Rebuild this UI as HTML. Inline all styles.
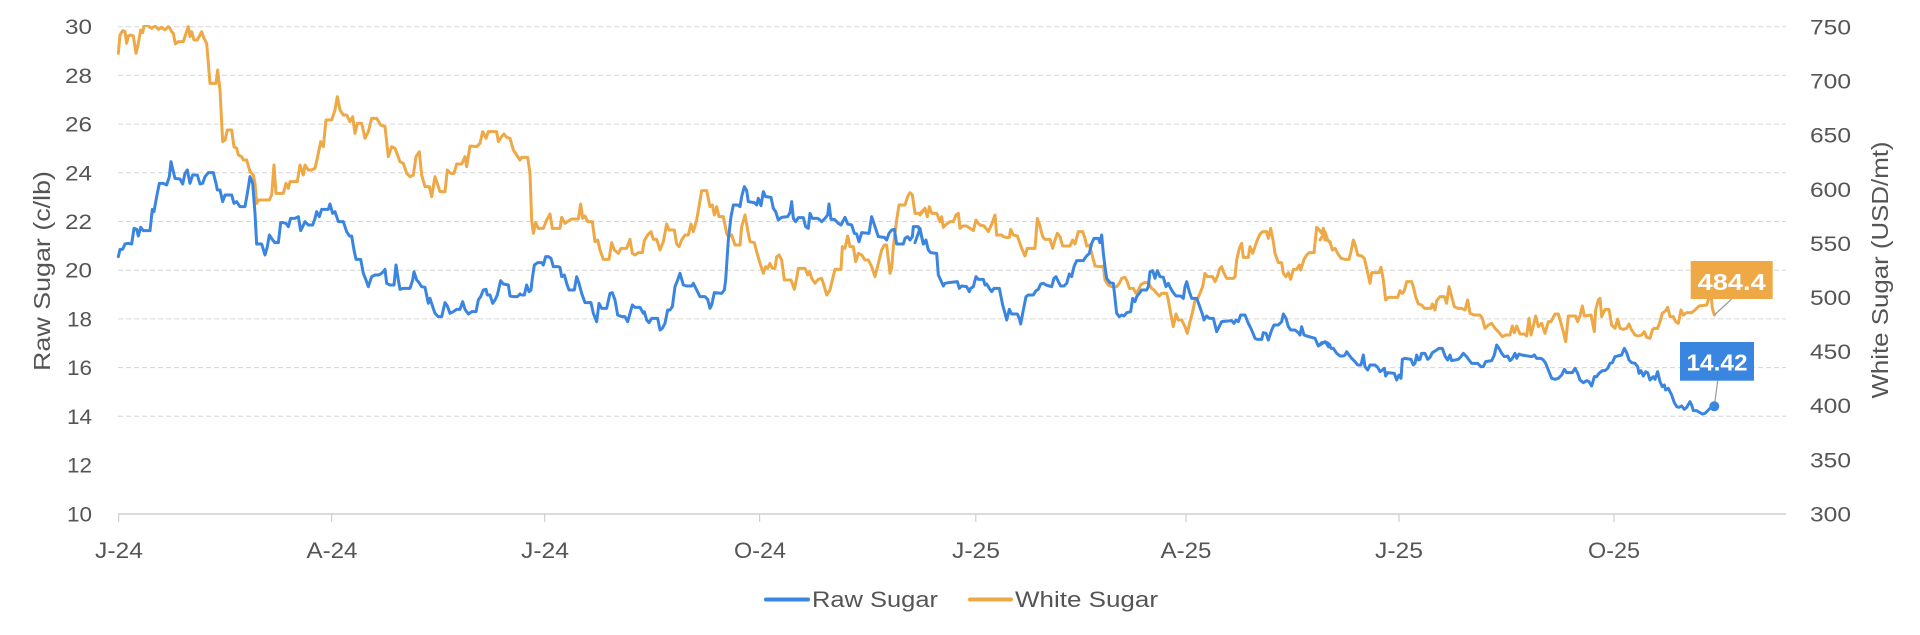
<!DOCTYPE html>
<html><head><meta charset="utf-8"><style>
html,body{margin:0;padding:0;background:#fff;}
svg{display:block;}
text{font-family:"Liberation Sans",sans-serif;}
</style></head><body>
<svg width="1920" height="635" viewBox="0 0 1920 635" xmlns="http://www.w3.org/2000/svg">
<defs><clipPath id="pc"><rect x="116" y="25" width="1672" height="492"/></clipPath></defs>
<rect width="1920" height="635" fill="#fff"/>
<g stroke="#d6d6d6" stroke-width="1" stroke-dasharray="5,3">
<line x1="118" y1="26.7" x2="1786" y2="26.7"/>
<line x1="118" y1="75.4" x2="1786" y2="75.4"/>
<line x1="118" y1="124.1" x2="1786" y2="124.1"/>
<line x1="118" y1="172.8" x2="1786" y2="172.8"/>
<line x1="118" y1="221.5" x2="1786" y2="221.5"/>
<line x1="118" y1="270.2" x2="1786" y2="270.2"/>
<line x1="118" y1="318.9" x2="1786" y2="318.9"/>
<line x1="118" y1="367.6" x2="1786" y2="367.6"/>
<line x1="118" y1="416.3" x2="1786" y2="416.3"/>
</g>
<line x1="118" y1="514" x2="1786" y2="514" stroke="#cfcfcf" stroke-width="1.5"/>
<g stroke="#cfcfcf" stroke-width="1.2">
<line x1="118.6" y1="514" x2="118.6" y2="522"/>
<line x1="331.6" y1="514" x2="331.6" y2="522"/>
<line x1="544.7" y1="514" x2="544.7" y2="522"/>
<line x1="759.6" y1="514" x2="759.6" y2="522"/>
<line x1="975.8" y1="514" x2="975.8" y2="522"/>
<line x1="1186" y1="514" x2="1186" y2="522"/>
<line x1="1399" y1="514" x2="1399" y2="522"/>
<line x1="1614" y1="514" x2="1614" y2="522"/>
</g>
<g fill="#555" font-size="21" text-anchor="end">
<text x="92" y="34" textLength="27" lengthAdjust="spacingAndGlyphs">30</text>
<text x="92" y="83" textLength="27" lengthAdjust="spacingAndGlyphs">28</text>
<text x="92" y="131.5" textLength="27" lengthAdjust="spacingAndGlyphs">26</text>
<text x="92" y="180.3" textLength="27" lengthAdjust="spacingAndGlyphs">24</text>
<text x="92" y="229" textLength="27" lengthAdjust="spacingAndGlyphs">22</text>
<text x="92" y="277.7" textLength="27" lengthAdjust="spacingAndGlyphs">20</text>
<text x="92" y="326.4" textLength="25" lengthAdjust="spacingAndGlyphs">18</text>
<text x="92" y="375.1" textLength="25" lengthAdjust="spacingAndGlyphs">16</text>
<text x="92" y="423.8" textLength="25" lengthAdjust="spacingAndGlyphs">14</text>
<text x="92" y="472.5" textLength="25" lengthAdjust="spacingAndGlyphs">12</text>
<text x="92" y="521.5" textLength="25" lengthAdjust="spacingAndGlyphs">10</text>
</g>
<g fill="#555" font-size="21" text-anchor="start">
<text x="1810" y="34.5" textLength="41" lengthAdjust="spacingAndGlyphs">750</text>
<text x="1810" y="88.6" textLength="41" lengthAdjust="spacingAndGlyphs">700</text>
<text x="1810" y="142.7" textLength="41" lengthAdjust="spacingAndGlyphs">650</text>
<text x="1810" y="196.8" textLength="41" lengthAdjust="spacingAndGlyphs">600</text>
<text x="1810" y="250.9" textLength="41" lengthAdjust="spacingAndGlyphs">550</text>
<text x="1810" y="305" textLength="41" lengthAdjust="spacingAndGlyphs">500</text>
<text x="1810" y="359.1" textLength="41" lengthAdjust="spacingAndGlyphs">450</text>
<text x="1810" y="413.2" textLength="41" lengthAdjust="spacingAndGlyphs">400</text>
<text x="1810" y="467.3" textLength="41" lengthAdjust="spacingAndGlyphs">350</text>
<text x="1810" y="521.4" textLength="41" lengthAdjust="spacingAndGlyphs">300</text>
</g>
<g fill="#555" font-size="22" text-anchor="middle">
<text x="119" y="558" textLength="48" lengthAdjust="spacingAndGlyphs">J-24</text>
<text x="332" y="558" textLength="51" lengthAdjust="spacingAndGlyphs">A-24</text>
<text x="545" y="558" textLength="48" lengthAdjust="spacingAndGlyphs">J-24</text>
<text x="760" y="558" textLength="52" lengthAdjust="spacingAndGlyphs">O-24</text>
<text x="976" y="558" textLength="48" lengthAdjust="spacingAndGlyphs">J-25</text>
<text x="1186" y="558" textLength="51" lengthAdjust="spacingAndGlyphs">A-25</text>
<text x="1399" y="558" textLength="48" lengthAdjust="spacingAndGlyphs">J-25</text>
<text x="1614" y="558" textLength="52" lengthAdjust="spacingAndGlyphs">O-25</text>
</g>
<text transform="translate(50,271) rotate(-90)" fill="#555" font-size="23" text-anchor="middle" textLength="200" lengthAdjust="spacingAndGlyphs">Raw Sugar (c/lb)</text>
<text transform="translate(1888,270) rotate(-90)" fill="#555" font-size="23" text-anchor="middle" textLength="257" lengthAdjust="spacingAndGlyphs">White Sugar (USD/mt)</text>

<g clip-path="url(#pc)" fill="none" stroke-linejoin="round" stroke-linecap="round">
<g stroke="#EEA845">
<g transform="translate(110,20) scale(0.333333)"><polyline stroke-width="9" points="25,100 30,45 38,32 45,35 50,70 55,48 62,45 70,48 78,100 85,70 92,30 98,38 102,18 110,15 125,25 135,18 145,28 155,22 165,30 175,20 180,25 185,35 190,40 196,72 205,65 220,65 228,40 235,20 240,50 245,35 252,60 262,60 270,45 275,35 282,55 290,70 300,190 318,190 323,150 330,210 338,365 345,360 352,330 365,330 372,380 380,385 385,405 395,410 400,420 410,420 420,455 430,465 435,490 440,550 445,540 460,540 478,540 485,525 492,435 498,520 510,520 520,520 528,490 535,505 540,485 548,485 562,485 570,435 580,465 585,435 595,450 605,450 615,445 625,400 632,365 640,380 648,300 665,300 675,270 682,230 690,270 700,285 710,285 720,305 728,290 735,340 742,310 755,310 765,355 775,335 785,295 800,295 812,315 825,320 835,410 845,380 855,385 870,425 880,430 890,460 900,470 910,465 918,410 928,395 935,465 945,500 958,500 965,530 975,470 990,515 1005,515 1012,450 1022,460 1032,460 1040,432 1055,432 1065,410 1070,440 1080,378 1100,380 1110,370 1118,335 1128,355 1135,335 1160,335 1165,365 1175,350 1182,342 1190,352 1200,355 1210,390 1220,405 1230,420"/></g>
<g transform="translate(515,20) scale(0.333333)"><polyline stroke-width="9" points="15,420 20,412 38,412 45,460 50,600 55,640 62,608 70,625 85,625 95,600 105,582 112,625 130,625 135,625 140,592 150,610 160,603 170,597 190,597 197,552 203,595 210,588 218,605 232,605 240,665 248,660 255,690 265,718 282,718 290,668 298,690 310,700 318,685 335,685 345,658 352,700 360,705 370,698 382,698 388,662 398,645 408,635 415,658 425,658 435,690 445,665 455,612 462,630 478,630 485,672 492,680 500,660 510,645 520,645 528,612 535,635 545,600 552,560 560,512 575,512 585,560 592,555 598,585 605,560 612,590 625,590 635,640 640,650 650,645 660,675 675,675 680,620 690,585 698,630 705,665 718,668 725,695 735,730 745,760 752,740 758,745 765,730 772,745 780,745 785,710 792,705 800,720 808,780 828,780 838,808 845,775 850,745 870,745 878,765 884,755 890,775 900,790 910,778 920,775 928,800 935,825 945,810 952,780 960,748 978,748 982,680 990,685 998,648 1005,680 1015,680 1022,725 1030,700 1040,705 1050,720 1060,720 1070,740 1080,770 1090,730 1100,690 1108,675 1115,675 1125,760 1130,745 1135,680 1145,600 1152,555 1170,555 1178,530 1185,518 1192,525 1200,580 1215,580 1225,570 1230,565"/></g>
<g transform="translate(920,20) scale(0.333333)"><polyline stroke-width="9" points="0,585 8,575 15,565 22,590 28,560 35,580 50,580 55,592 60,605 65,590 70,622 80,612 90,605 100,605 108,585 115,580 120,625 128,618 140,618 150,625 160,632 168,600 175,610 180,615 192,618 198,625 205,635 212,620 218,605 225,585 230,645 245,645 250,650 258,652 268,652 272,628 280,645 292,648 298,665 305,685 315,708 322,685 345,685 352,595 358,612 368,650 375,658 390,658 398,685 405,660 412,640 420,650 428,678 450,678 458,660 465,672 475,635 488,635 495,655 500,678 508,675 515,700 525,738 540,740 550,738 555,780 565,795 575,800 590,800 598,790 605,775 615,772 622,785 628,805 640,805 648,820 655,810 662,795 672,788 685,788 695,805 702,810 710,820 718,828 725,820 740,820 745,840 752,880 760,920 768,882 775,900 785,900 795,920 802,940 810,905 818,875 825,840 832,838 840,820 848,800 855,760 862,770 878,770 885,785 892,770 898,748 905,740 910,755 920,775 940,775 945,770 950,720 958,685 965,670 970,712 985,712 990,680 998,700 1005,680 1012,660 1020,642 1028,635 1040,635 1045,655 1052,625 1060,665 1065,700 1075,728 1085,728 1090,760 1098,770 1105,758 1112,778 1120,748 1130,748 1138,735 1142,750 1152,718 1160,705 1168,698 1182,698 1190,622 1198,630 1205,640 1210,625 1215,660 1222,660 1230,668"/></g>
<g transform="translate(1325,20) scale(0.333333)"><polyline stroke-width="9" points="-15,660 0,635 8,660 15,665 22,690 30,685 38,700 48,715 60,718 72,718 78,695 85,660 92,680 98,705 110,708 118,715 125,745 135,790 140,758 150,758 162,758 168,742 175,780 182,840 190,832 218,832 225,812 232,820 238,812 245,785 260,785 265,800 272,830 280,852 290,855 298,865 318,865 322,852 330,870 335,842 345,830 358,830 365,850 372,800 380,830 388,860 398,865 410,865 420,870 428,840 435,880 448,885 465,885 472,895 480,925 490,915 500,910 510,925 520,935 532,950 542,945 555,945 562,918 568,938 575,918 585,942 598,942 605,948 612,895 618,945 625,918 632,888 640,920 650,910 660,940 670,905 678,905 690,882 700,882 708,910 715,935 722,965 730,888 752,888 758,905 765,888 772,858 778,888 798,885 808,935 812,870 820,840 825,835 830,890 840,868 852,868 860,915 870,925 878,897 885,925 895,928 905,925 912,912 920,930 930,945 940,948 950,945 958,935 965,952 975,955 982,930 988,925 998,925 1005,905 1012,880 1022,872 1028,862 1035,890 1045,890 1052,905 1060,910 1068,870 1075,885 1085,878 1100,878 1110,870 1122,858 1145,855 1150,840 1158,820 1162,865 1168,885"/></g>
</g>
<g stroke="#3A85E0">
<g transform="translate(110,20) scale(0.333333)"><polyline stroke-width="9" points="25,710 30,688 38,688 45,672 55,670 65,672 72,625 80,628 85,648 92,622 100,632 120,632 127,568 132,575 140,530 148,490 160,490 170,495 178,470 183,425 190,455 195,475 210,477 218,492 225,460 232,450 240,490 248,465 262,465 270,492 278,490 285,470 295,458 310,458 318,490 322,510 330,510 338,545 345,525 365,525 372,550 380,545 390,560 405,560 412,520 420,470 428,490 435,580 440,672 455,672 465,705 472,680 478,645 488,660 495,668 505,668 512,608 520,608 528,610 535,620 542,595 555,595 565,590 572,632 578,620 585,605 595,615 608,615 615,595 620,575 628,590 635,568 655,568 660,552 668,580 675,575 680,590 685,605 700,605 710,635 718,648 725,648 732,690 738,718 752,718 760,760 768,780 775,800 785,770 795,765 805,765 812,762 820,755 825,748 830,790 840,795 852,795 858,735 865,780 870,808 880,805 900,805 908,780 912,755 920,780 925,785 935,800 945,802 955,850 960,835 968,860 975,880 985,890 995,890 1005,848 1012,858 1020,880 1030,875 1040,868 1050,868 1058,845 1065,868 1075,882 1085,875 1098,875 1105,840 1112,830 1120,810 1128,808 1132,825 1140,825 1148,850 1155,840 1162,825 1172,782 1180,792 1195,795 1200,828 1210,830 1222,830 1230,822"/></g>
<g transform="translate(515,20) scale(0.333333)"><polyline stroke-width="9" points="15,822 20,825 28,825 35,795 42,815 48,810 52,775 58,735 68,728 80,728 85,735 92,710 100,710 108,715 115,740 130,740 135,742 140,770 148,765 155,790 162,810 178,810 185,770 192,790 200,820 210,848 228,848 235,880 245,905 252,850 260,865 275,865 285,820 292,818 300,840 308,885 320,890 330,890 338,905 345,880 352,855 360,862 375,862 385,880 388,875 395,900 402,908 410,895 428,895 435,930 442,925 450,910 458,870 465,870 472,860 480,800 488,780 495,760 505,795 515,798 530,798 535,790 545,810 555,830 570,830 578,838 585,865 590,855 598,818 620,820 628,810 632,780 640,660 648,590 655,555 668,555 675,560 680,530 688,500 695,512 700,545 718,548 725,555 730,535 738,557 745,515 752,530 768,532 775,565 782,575 790,600 800,592 818,590 825,578 830,545 835,595 842,605 850,593 865,593 872,620 880,625 885,580 892,595 908,595 915,600 920,605 930,595 938,585 942,552 948,598 958,598 970,610 978,615 990,592 998,612 1010,615 1018,640 1025,642 1032,665 1040,638 1062,640 1070,590 1080,620 1090,650 1108,652 1115,660 1122,640 1130,630 1138,628 1145,672 1165,672 1170,655 1178,650 1185,660 1192,650 1195,620 1210,620 1220,650 1225,672 1230,668"/></g>
<g transform="translate(920,20) scale(0.333333)"><polyline stroke-width="9" points="-15,668 0,625 5,650 10,672 18,660 25,690 32,698 50,700 55,765 62,780 70,798 75,790 85,788 112,785 118,805 125,798 140,800 148,815 152,805 160,800 168,770 175,778 190,778 195,795 200,792 208,805 215,815 222,805 238,805 248,855 255,880 260,900 268,868 275,882 292,882 298,895 302,912 310,870 318,830 325,825 340,825 348,812 355,808 362,792 370,790 378,795 395,800 402,775 408,770 415,785 422,798 432,798 440,790 448,762 455,770 462,740 470,722 490,722 498,710 508,700 515,670 522,655 535,655 540,668 545,645 550,700 555,740 560,775 570,788 580,790 590,880 598,890 605,885 612,888 620,878 632,875 638,835 645,845 650,830 658,820 665,810 680,810 685,800 690,755 698,752 705,775 712,752 720,770 730,772 738,800 745,790 752,805 760,818 768,828 782,828 790,835 795,800 800,785 808,815 815,835 830,835 840,862 848,885 852,900 860,888 868,895 880,895 890,935 895,925 905,905 935,902 942,910 948,900 955,905 962,885 975,885 985,910 995,930 1005,955 1012,958 1025,958 1030,938 1038,940 1045,960 1055,930 1062,915 1075,915 1085,905 1090,882 1098,895 1105,920 1112,930 1125,930 1135,938 1140,945 1145,920 1152,945 1160,948 1185,955 1195,978 1205,968 1218,968 1225,980 1230,975"/></g>
<g transform="translate(1325,20) scale(0.333333)"><polyline stroke-width="9" points="-15,975 0,965 10,970 18,985 25,985 35,1000 45,1008 55,1008 60,1005 65,995 72,1005 80,1015 90,1025 98,1035 108,1035 115,1005 120,1040 128,1050 135,1035 150,1035 158,1042 165,1055 172,1050 178,1045 182,1068 188,1058 208,1060 215,1080 222,1065 228,1075 232,1018 240,1015 258,1018 265,1035 270,1030 275,1005 280,1020 285,1018 290,1000 300,1000 308,1018 315,1012 322,998 335,990 342,985 352,985 360,1008 368,1020 375,1005 380,1022 400,1018 408,1010 415,1000 425,1010 432,1020 440,1030 458,1030 468,1040 475,1040 482,1025 500,1022 508,1005 515,975 522,985 530,1000 538,1010 548,1008 555,1022 560,1018 565,1010 570,1000 575,1015 582,1002 590,1005 620,1010 628,1005 635,1015 648,1015 655,1020 662,1030 670,1050 680,1075 690,1078 700,1075 710,1065 718,1048 725,1058 742,1058 750,1045 758,1060 765,1080 775,1088 785,1082 792,1085 800,1098 808,1070 815,1070 822,1060 832,1052 840,1052 848,1045 855,1030 862,1028 870,1010 890,1005 898,985 905,998 912,1020 920,1028 930,1030 938,1040 942,1060 948,1052 955,1068 962,1055 968,1058 975,1080 985,1070 990,1078 998,1055 1005,1085 1012,1100 1018,1095 1022,1110 1030,1105 1040,1125 1048,1148 1055,1160 1062,1162 1070,1158 1078,1168 1085,1162 1095,1145 1100,1155 1105,1172 1115,1172 1125,1178 1132,1182 1140,1180 1148,1172 1155,1165 1162,1160"/></g>
</g>
</g>

<line x1="1731.7" y1="299" x2="1714.3" y2="315" stroke="#9a9a9a" stroke-width="1.2"/>
<rect x="1690.7" y="261" width="82" height="38" fill="#EEA845"/>
<text x="1731.7" y="290" fill="#fff" font-size="23" font-weight="bold" text-anchor="middle" textLength="68" lengthAdjust="spacingAndGlyphs">484.4</text>
<line x1="1717.7" y1="380.7" x2="1714.3" y2="406" stroke="#9a9a9a" stroke-width="1.2"/>
<rect x="1680" y="342" width="74" height="38.7" fill="#3A85E0"/>
<text x="1717" y="370.7" fill="#fff" font-size="23" font-weight="bold" text-anchor="middle" textLength="61" lengthAdjust="spacingAndGlyphs">14.42</text>
<circle cx="1714.3" cy="406.3" r="5" fill="#3A85E0"/>

<line x1="766" y1="599.5" x2="808" y2="599.5" stroke="#3A85E0" stroke-width="4" stroke-linecap="round"/>
<text x="812" y="607" fill="#555" font-size="22" textLength="126" lengthAdjust="spacingAndGlyphs">Raw Sugar</text>
<line x1="970" y1="599.5" x2="1011" y2="599.5" stroke="#EEA845" stroke-width="4" stroke-linecap="round"/>
<text x="1015" y="607" fill="#555" font-size="22" textLength="143" lengthAdjust="spacingAndGlyphs">White Sugar</text>
</svg>
</body></html>
